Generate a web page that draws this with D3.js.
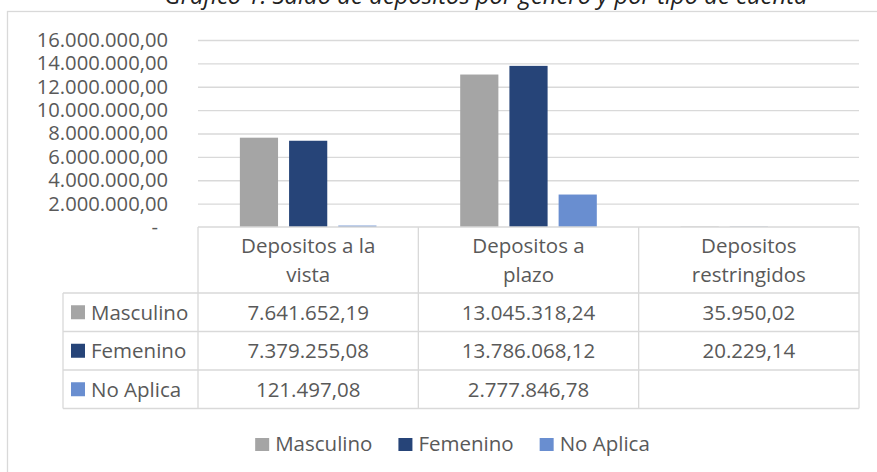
<!DOCTYPE html>
<html>
<head>
<meta charset="utf-8">
<script src="https://cdn.jsdelivr.net/npm/d3@7"></script>
<style>
  body { margin: 0; background: #fff; }
  text { font-family: "Open Sans", sans-serif; }
</style>
</head>
<body>
<div id="grafico"></div>
<script>
// Datos
const categorias = ["Depositos a la vista", "Depositos a plazo", "Depositos restringidos"]
const lineasCategoria = [["Depositos a la", "vista"], ["Depositos a", "plazo"], ["Depositos", "restringidos"]]
const series = ["Masculino", "Femenino", "No Aplica"]
const masculino = [7641652.19, 13045318.24, 35950.02]
const femenino = [7379255.08, 13786068.12, 20229.14]
const noAplica = [121497.08, 2777846.78, null]
const yTicks = [0, 2000000, 4000000, 6000000, 8000000, 10000000, 12000000, 14000000, 16000000]
const colores = ["#A5A5A5", "#264478", "#698ED0"]

const valores = [masculino, femenino, noAplica]
const data = categorias.map((c, i) => ({
  categoria: c,
  valores: series.map((s, j) => ({ serie: s, valor: valores[j][i] }))
}))

const width = 877, height = 472
const plot = { left: 198, right: 859, top: 40, bottom: 227 }
const headerH = 66, rowH = 38.5, legendColX = 63
const gris = "#D9D9D9", texto = "#595959"

const loc = d3.formatLocale({ decimal: ",", thousands: ".", grouping: [3], currency: ["", ""] })
const fmt = loc.format(",.2f")

const svg = d3.select("#grafico")
  .append("svg")
  .attr("width", width)
  .attr("height", height)

// Marco
svg.append("rect")
  .attr("x", 7.5).attr("y", 11.5)
  .attr("width", 1000).attr("height", 1000)
  .attr("fill", "#fff").attr("stroke", gris).attr("stroke-width", 1.3)

// Titulo (cortado arriba, como en la imagen)
svg.append("text")
  .attr("x", 486).attr("y", 4)
  .attr("text-anchor", "middle")
  .attr("font-size", "23.8px")
  .attr("font-style", "italic")
  .attr("fill", "#222")
  .text("Gráfico 1. Saldo de depósitos por género y por tipo de cuenta")

// Escalas
const y = d3.scaleLinear().domain([0, 16000000]).range([plot.bottom, plot.top])
const x0 = d3.scaleBand().domain(categorias).range([plot.left, plot.right])
const bw = x0.bandwidth()
const x1 = d3.scaleBand().domain(series).range([bw * 0.19, bw * 0.81]).paddingInner(0.224)
const color = d3.scaleOrdinal().domain(series).range(colores)

// Lineas de cuadricula
svg.append("g")
  .attr("transform", `translate(${plot.left},0)`)
  .call(d3.axisLeft(y).tickValues(yTicks.slice(1)).tickSize(-(plot.right - plot.left)).tickFormat(""))
  .call(g => g.select(".domain").remove())
  .call(g => g.selectAll("line").attr("stroke", gris).attr("stroke-width", 1.3))

// Eje y
const yAxis = svg.append("g")
  .attr("transform", `translate(${plot.left},0)`)
  .call(d3.axisLeft(y).tickValues(yTicks).tickSize(0).tickPadding(30)
    .tickFormat(d => d === 0 ? "-" : fmt(d)))
yAxis.select(".domain").remove()
yAxis.selectAll("text")
  .attr("font-size", "20.2px")
  .attr("font-family", "Open Sans, sans-serif")
  .attr("fill", texto)
  .attr("dx", d => d === 0 ? -10 : 0)

// Barras
svg.append("g").selectAll("g")
  .data(data)
  .join("g")
  .attr("transform", d => `translate(${x0(d.categoria)},0)`)
  .selectAll("rect")
  .data(d => d.valores.filter(v => v.valor != null))
  .join("rect")
  .attr("x", d => x1(d.serie))
  .attr("y", d => y(d.valor))
  .attr("width", x1.bandwidth())
  .attr("height", d => y(0) - y(d.valor))
  .attr("fill", d => color(d.serie))

// Tabla de datos
const tabla = svg.append("g")
const t0 = plot.bottom
const filasY = series.map((s, i) => t0 + headerH + i * rowH)
const tBottom = t0 + headerH + series.length * rowH

const linea = (xa, ya, xb, yb) => tabla.append("line")
  .attr("x1", xa).attr("y1", ya).attr("x2", xb).attr("y2", yb)
  .attr("stroke", gris).attr("stroke-width", 1.3)

linea(plot.left, t0, plot.right, t0)
filasY.forEach(fy => linea(legendColX, fy, plot.right, fy))
linea(legendColX, tBottom, plot.right, tBottom)
linea(legendColX, t0 + headerH, legendColX, tBottom)
categorias.forEach(c => linea(x0(c), t0, x0(c), tBottom))
linea(plot.right, t0, plot.right, tBottom)

// Encabezados
categorias.forEach((c, i) => {
  const tx = tabla.append("text")
    .attr("text-anchor", "middle")
    .attr("font-size", "20.5px")
    .attr("fill", texto)
  lineasCategoria[i].forEach((l, k) => {
    tx.append("tspan")
      .attr("x", x0(c) + bw / 2)
      .attr("y", t0 + 26 + k * 29)
      .text(l)
  })
})

// Filas
series.forEach((s, j) => {
  const cy = filasY[j] + rowH / 2
  tabla.append("rect")
    .attr("x", 71).attr("y", cy - 7)
    .attr("width", 14).attr("height", 14)
    .attr("fill", color(s))
  tabla.append("text")
    .attr("x", 91).attr("y", cy + 7.5)
    .attr("font-size", "20.5px")
    .attr("fill", texto)
    .text(s)
  categorias.forEach((c, i) => {
    const v = valores[j][i]
    if (v == null) return
    tabla.append("text")
      .attr("x", x0(c) + bw / 2).attr("y", cy + 7.5)
      .attr("text-anchor", "middle")
      .attr("font-size", "20.5px")
      .attr("fill", texto)
      .text(fmt(v))
  })
})

// Leyenda
const leyenda = svg.append("g")
let lx = 0
series.forEach(s => {
  const item = leyenda.append("g").attr("transform", `translate(${lx},0)`)
  item.append("rect")
    .attr("x", 0).attr("y", 438)
    .attr("width", 14).attr("height", 13)
    .attr("fill", color(s))
  const t = item.append("text")
    .attr("x", 20).attr("y", 451)
    .attr("font-size", "20.5px")
    .attr("fill", texto)
    .text(s)
  lx += 20 + t.node().getComputedTextLength() + 26
})
const anchoLeyenda = lx - 26
leyenda.attr("transform", `translate(${452.5 - anchoLeyenda / 2},0)`)
</script>
</body>
</html>
